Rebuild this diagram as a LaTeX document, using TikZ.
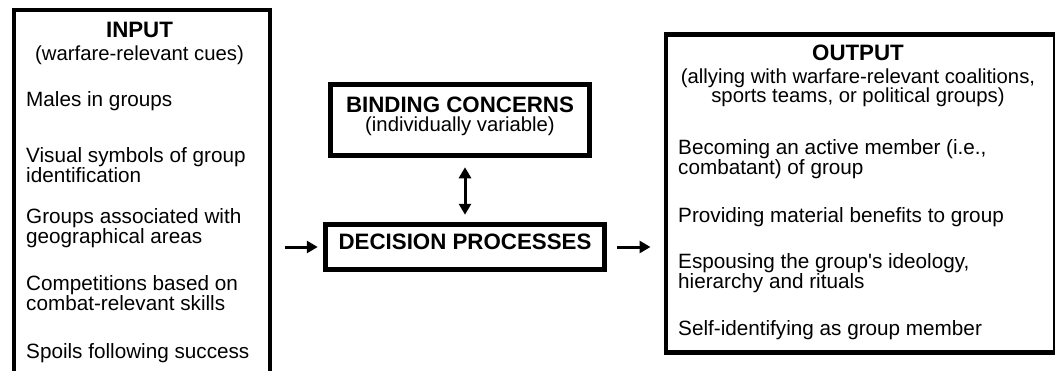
\documentclass[tikz,border=0pt]{standalone}
\usepackage{fontspec}
\setmainfont{Liberation Sans}[Ligatures=TeXOff]
\usetikzlibrary{arrows.meta}
\usetikzlibrary{positioning}
\usetikzlibrary{calc}

\tikzset{
  panel/.style={draw, line width=4.5pt, inner sep=0pt},
  headline/.style={font=\bfseries\fontsize{22.3}{22.3}\selectfont, anchor=base, inner sep=0pt},
  subline/.style={font=\fontsize{20.3}{19}\selectfont, anchor=base, inner sep=0pt, align=center},
  cue/.style={font=\fontsize{20.7}{20}\selectfont, anchor=base west, inner sep=0pt, align=left},
  flow/.style={-{Triangle[length=11pt, width=12pt]}, line width=3pt},
  twoway/.style={{Triangle[length=11pt, width=12pt]}-{Triangle[length=11pt, width=12pt]}, line width=3pt},
}

\begin{document}
\begin{tikzpicture}[x=1pt, y=-1pt]

      \useasboundingbox (0,0) rectangle (1055,370);

      % the three boxes
      \node[panel, anchor=north west, minimum width=256pt, minimum height=392pt] (input) at (11.5, 7.5) {};
      \node[panel, anchor=north west, minimum width=389pt, minimum height=318pt] (output) at (663.5, 32) {};
      \node[panel, minimum width=259pt, minimum height=71pt] (binding) at (460, 120) {};
      \node[panel, minimum width=279pt, minimum height=45pt] (decision) at (465, 247) {};

      % input side (base = last line)
      \node[headline] (intitle) at (139.5, 37) {INPUT};
      \node[subline] (insub) at (139.5, 60) {(warfare-relevant cues)};

      \node[cue] (cue1) at (26, 106) {Males in groups};
      \node[cue] (cue2) at (26, 182) {Visual symbols of group\\identification};
      \node[cue] (cue3) at (26, 243) {Groups associated with\\geographical areas};
      \node[cue] (cue4) at (26, 310) {Competitions based on\\combat-relevant skills};
      \node[cue] (cue5) at (26, 358) {Spoils following success};

      % middle
      \node[headline] (bindtitle) at (460, 112) {BINDING CONCERNS};
      \node[subline] (bindsub) at (460, 131) {(individually variable)};
      \node[headline] (dectitle) at (465, 249) {DECISION PROCESSES};

      % output side
      \node[headline] (outtitle) at (858, 60) {OUTPUT};
      \node[subline] (outsub) at (858, 102) {(allying with warfare-relevant coalitions,\\sports teams, or political groups)};

      \node[cue] (act1) at (678, 174) {Becoming an active member (i.e.,\\combatant) of group};
      \node[cue] (act2) at (678, 222) {Providing material benefits to group};
      \node[cue] (act3) at (678, 288) {Espousing the group's ideology,\\hierarchy and rituals};
      \node[cue] (act4) at (678, 335) {Self-identifying as group member};

      % arrows
      \draw[flow, shorten <=12.5pt, shorten >=5.5pt] (input.east |- decision.west) -- (decision.west);
      \draw[flow, shorten <=10pt, shorten >=13pt] (decision.east) -- (output.west |- decision.east);
      \draw[twoway, shorten <=7.5pt, shorten >=9.5pt] (decision.north) -- (decision.north |- binding.south);
    \end{tikzpicture}
\end{document}
